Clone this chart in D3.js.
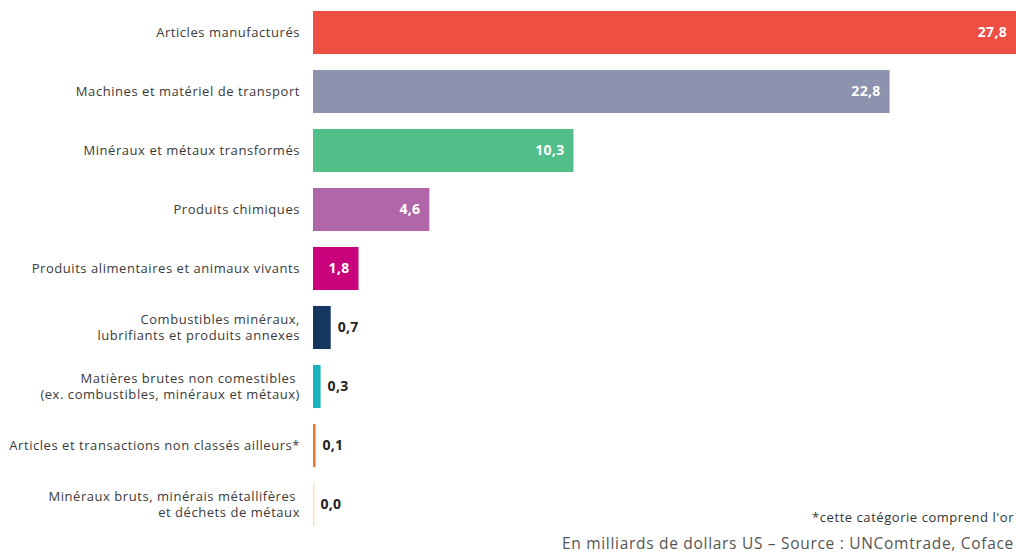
<!DOCTYPE html>
<html><head><meta charset="utf-8">
<script src="https://cdn.jsdelivr.net/npm/d3@7"></script>
<style>
html,body{margin:0;padding:0;background:#fff;}
svg{display:block;font-family:"Open Sans","Noto Sans",sans-serif;}
</style></head>
<body><svg id="c" width="1016" height="554"></svg>
<script>
const categories = [
  ["Articles manufacturés"],
  ["Machines et matériel de transport"],
  ["Minéraux et métaux transformés"],
  ["Produits chimiques"],
  ["Produits alimentaires et animaux vivants"],
  ["Combustibles minéraux,", "lubrifiants et produits annexes"],
  ["Matières brutes non comestibles ", "(ex. combustibles, minéraux et métaux)"],
  ["Articles et transactions non classés ailleurs*"],
  ["Minéraux bruts, minérais métallifères ", "et déchets de métaux"]
];
const values = [27.8, 22.8, 10.3, 4.6, 1.8, 0.7, 0.3, 0.1, 0.02];
const colors = ["#EF4E42", "#8D92AE", "#52BE88", "#B067A9", "#C8037C", "#15375F", "#17B3BC", "#E0782E", "#F5E5B5"];
const footnote = "*cette catégorie comprend l'or";
const source = "En milliards de dollars US – Source : UNComtrade, Coface";

const svg = d3.select("#c");
const x = d3.scaleLinear().domain([0, 27.8]).range([313, 1016]);
const y = d3.scaleBand().domain(d3.range(values.length)).range([3, 534]).paddingInner(0.27).paddingOuter(0.135);
const fmt = v => d3.format(".1f")(v).replace(".", ",");

const g = svg.append("g");
g.selectAll("rect").data(values).join("rect")
  .attr("x", x(0))
  .attr("y", (d, i) => y(i))
  .attr("width", d => Math.max(1.5, x(d) - x(0)))
  .attr("height", y.bandwidth())
  .attr("fill", (d, i) => colors[i]);

// category labels
const lab = g.selectAll("text.cat").data(categories).join("text")
  .attr("class", "cat")
  .attr("text-anchor", "end")
  .attr("font-size", 13)
  .attr("letter-spacing", 0.55)
  .attr("fill", "#3a3a3a")
  .attr("transform", (d, i) => `translate(300,${y(i) + y.bandwidth() / 2})`);
lab.each(function(lines) {
  const t = d3.select(this);
  const n = lines.length;
  lines.forEach((l, k) => {
    t.append("tspan").attr("x", 0)
      .attr("y", (k - (n - 1) / 2) * 16)
      .attr("dy", "0.35em")
      .text(l);
  });
});

// value labels
g.selectAll("text.val").data(values).join("text")
  .attr("class", "val")
  .attr("font-size", 14)
  .attr("font-weight", "bold")
  .attr("letter-spacing", 0.3)
  .attr("x", d => (x(d) - x(0) > 40 ? x(d) - 9 : x(d) + 7))
  .attr("text-anchor", d => (x(d) - x(0) > 40 ? "end" : "start"))
  .attr("y", (d, i) => y(i) + y.bandwidth() / 2)
  .attr("dy", "0.35em")
  .attr("fill", d => (x(d) - x(0) > 40 ? "#fff" : "#222"))
  .text(d => fmt(d));

svg.append("text").attr("x", 1014).attr("y", 522).attr("text-anchor", "end")
  .attr("font-size", 13).attr("letter-spacing", 0.55).attr("fill", "#333").text(footnote);
svg.append("text").attr("x", 1014).attr("y", 549).attr("text-anchor", "end")
  .attr("font-size", 15.5).attr("letter-spacing", 0.7).attr("fill", "#555").text(source);
</script></body></html>
